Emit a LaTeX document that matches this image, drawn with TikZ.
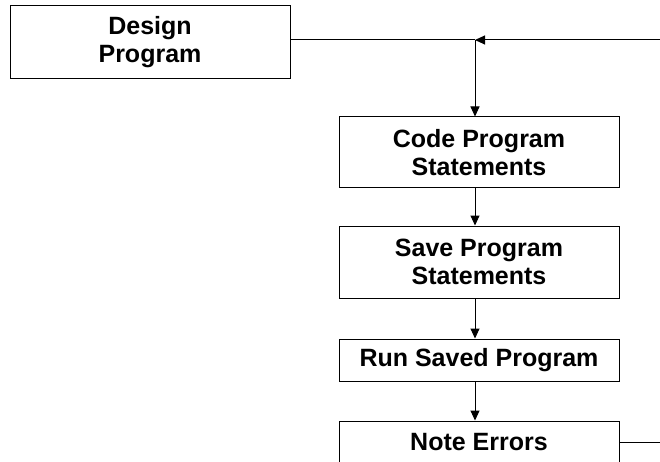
\documentclass[tikz,border=0pt]{standalone}
\usepackage{fontspec}
\setmainfont{Liberation Sans}
\usepackage{tikz}
\usetikzlibrary{arrows.meta}

\begin{document}
\begin{tikzpicture}[x=1pt, y=-1pt, line width=1pt,
  stage/.style={draw, minimum width=280pt, align=center, inner sep=0pt,
    font=\fontsize{25}{28}\selectfont\bfseries},
  flow/.style={-{Triangle[length=10pt,width=9pt]}}]
\clip (0,0) rectangle (660,462);
\node[stage, minimum height=73pt] (design) at (150,42.5) {Design\\Program};
\node[stage, minimum height=71pt] (code) at (479,152.5) {Code Program\\Statements};
\node[stage, minimum height=72pt] (save) at (479,262) {Save Program\\Statements};
\node[stage, minimum height=42pt] (run) at (479,360) {Run Saved Program};
\node[stage, minimum height=42pt] (note) at (479,442) {Note Errors};
\coordinate (junc) at (475,40);
\coordinate (back) at (670,40);
\coordinate (out) at (670,442);
\draw (design.east |- junc) -- (junc);
\draw[flow] (back) -- (junc);
\draw[flow] (junc) -- (junc |- code.north);
\draw[flow] (code.south -| junc) -- (save.north -| junc);
\draw[flow] (save.south -| junc) -- (run.north -| junc);
\draw[flow] (run.south -| junc) -- (note.north -| junc);
\draw (note.east) -- (out);
\end{tikzpicture}
\end{document}
